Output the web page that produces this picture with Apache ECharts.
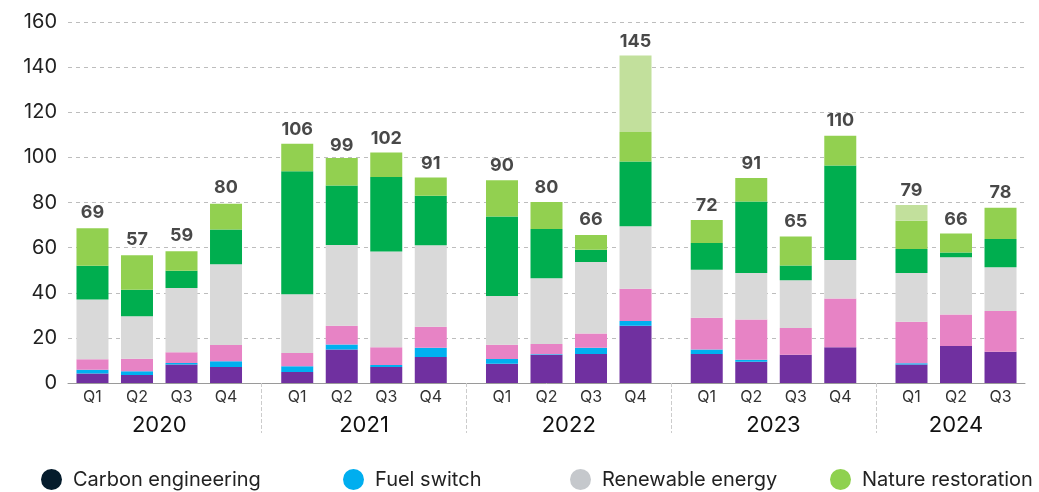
<!DOCTYPE html>
<html>
<head>
<meta charset="utf-8">
<script src="https://cdn.jsdelivr.net/npm/echarts@6/dist/echarts.min.js"></script>
<style>
  html, body { margin: 0; padding: 0; background: #fff; }
  #echart { width: 1039px; height: 492px; }
</style>
</head>
<body>
<div id="echart"></div>
<script>
// data
var years = ['2020', '2021', '2022', '2023', '2024'];
var quartersPerYear = [4, 4, 4, 4, 3];
var quarterLabels = ['Q1', 'Q2', 'Q3', 'Q4'];
var totals = [69, 57, 59, 80, 106, 99, 102, 91, 90, 80, 66, 145, 72, 91, 65, 110, 79, 66, 78];

var carbonEngineering = [4.2, 3.6, 8.2, 7.1, 4.9, 14.8, 7.1, 11.5, 8.5, 12.4, 12.9, 25.4, 12.8, 9.4, 12.5, 15.8, 8.2, 16.4, 13.8];
var fuelSwitch = [1.7, 1.6, 0.7, 2.5, 2.5, 2.3, 0.9, 4.1, 2.1, 0.3, 2.7, 2.1, 2.1, 0.9, 0, 0, 0.6, 0, 0];
var otherSolutions = [4.6, 5.6, 4.7, 7.2, 5.9, 8.3, 7.9, 9.3, 6.4, 4.6, 6.3, 14.3, 14.0, 17.8, 11.9, 21.6, 18.4, 14.0, 18.1];
var renewableEnergy = [26.5, 18.8, 28.5, 35.8, 26.0, 35.8, 42.4, 36.1, 21.6, 29.1, 31.7, 27.7, 21.3, 20.7, 21.1, 17.1, 21.5, 25.3, 19.4];
var natureAvoided = [15.0, 11.7, 7.7, 15.4, 54.5, 26.3, 33.0, 22.0, 35.2, 21.9, 5.5, 28.7, 11.9, 31.6, 6.6, 41.9, 10.7, 2.1, 12.5];
var natureRestoration = [16.6, 15.3, 8.6, 11.4, 12.2, 12.2, 10.9, 8.1, 16.1, 11.9, 6.5, 13.1, 10.1, 10.5, 12.8, 13.2, 12.5, 8.5, 13.9];
var natureOther = [0, 0, 0, 0, 0, 0, 0, 0, 0, 0, 0, 33.8, 0, 0, 0, 0, 7.0, 0, 0];

// fine category grid so the gap between years can be wider than between quarters
var lead = 5, step = 10, yearGap = 16, tail = 5;
var slots = [], yearMid = [], separators = [];
var idx = lead;
quartersPerYear.forEach(function (n, y) {
  var first = idx;
  for (var q = 0; q < n; q++) {
    slots.push(idx);
    idx += step;
  }
  var last = idx - step;
  yearMid.push(Math.round((first + last) / 2));
  if (y < quartersPerYear.length - 1) separators.push(last + yearGap / 2);
  idx = last + yearGap;
});
var nCats = slots[slots.length - 1] + 1 + tail;

var qCats = [], yCats = [];
for (var i = 0; i < nCats; i++) { qCats.push(''); yCats.push(''); }
var k = 0;
quartersPerYear.forEach(function (n, y) {
  for (var q = 0; q < n; q++) { qCats[slots[k]] = quarterLabels[q]; k++; }
  yCats[yearMid[y]] = years[y];
});

function expand(arr) {
  var out = [];
  for (var i = 0; i < nCats; i++) out.push('-');
  arr.forEach(function (v, j) { out[slots[j]] = v; });
  return out;
}

var myChart = echarts.init(document.getElementById('echart'));

var segs = [
  ['Carbon engineering', carbonEngineering, '#7030a0'],
  ['Fuel switch', fuelSwitch, '#00b0f0'],
  ['Other solutions', otherSolutions, '#e783c5'],
  ['Renewable energy', renewableEnergy, '#d9d9d9'],
  ['Nature avoided', natureAvoided, '#00ae4f'],
  ['Nature restoration', natureRestoration, '#92d050'],
  ['Nature other', natureOther, '#c2e09c']
];

var series = segs.map(function (s) {
  return {
    name: s[0],
    type: 'bar',
    stack: 'all',
    barWidth: 32,
    data: expand(s[1]),
    itemStyle: { color: s[2] }
  };
});
series.push({
  name: 'Total',
  type: 'scatter',
  symbolSize: 1,
  itemStyle: { color: 'rgba(0,0,0,0)' },
  data: expand(totals),
  label: {
    show: true,
    position: 'top',
    distance: 5,
    color: '#1a1a1a',
    fontSize: 18,
    fontWeight: 'bold',
    fontFamily: 'Inter',
    formatter: function (p) { return p.value; }
  }
});

// legend shows only four entries, each with its own swatch colour
var legendItems = [
  ['Carbon engineering', '#051c2c', 36],
  ['Fuel switch', '#00aeef', 338],
  ['Renewable energy', '#c5c8cc', 565],
  ['Nature restoration', '#8fd14f', 825]
];

var option = {
  animation: false,
  textStyle: { fontFamily: 'Inter' },
  grid: { left: 68, right: 14, top: 22, bottom: 109 },
  legend: legendItems.map(function (l) {
    return {
      left: l[2],
      top: 464,
      icon: 'circle',
      itemWidth: 21,
      itemHeight: 21,
      selectedMode: false,
      data: [{ name: l[0], itemStyle: { color: l[1] } }],
      textStyle: { fontSize: 20, color: '#222', fontFamily: 'Inter', padding: [0, 0, 0, 6] }
    };
  }),
  xAxis: [
    {
      type: 'category',
      data: qCats,
      axisLine: { lineStyle: { color: '#9a9a9a', width: 1 } },
      axisTick: {
        show: true,
        alignWithLabel: true,
        length: 50,
        interval: function (index) { return separators.indexOf(index) >= 0; },
        lineStyle: { color: '#cccccc', type: 'dashed' }
      },
      axisLabel: { interval: 0, margin: 6, fontSize: 16, color: '#333' }
    },
    {
      type: 'category',
      position: 'bottom',
      offset: 26,
      data: yCats,
      axisLine: { show: false },
      axisTick: { show: false },
      axisLabel: { interval: 0, margin: 5, fontSize: 22, color: '#111' }
    }
  ],
  yAxis: {
    type: 'value',
    min: 0,
    max: 160,
    interval: 20,
    axisLine: { show: false },
    axisTick: { show: false },
    axisLabel: { margin: 11, fontSize: 20, color: '#222' },
    splitLine: { lineStyle: { color: '#bdbdbd', type: [4, 4] } }
  },
  series: series
};

myChart.setOption(option);
</script>
</body>
</html>
